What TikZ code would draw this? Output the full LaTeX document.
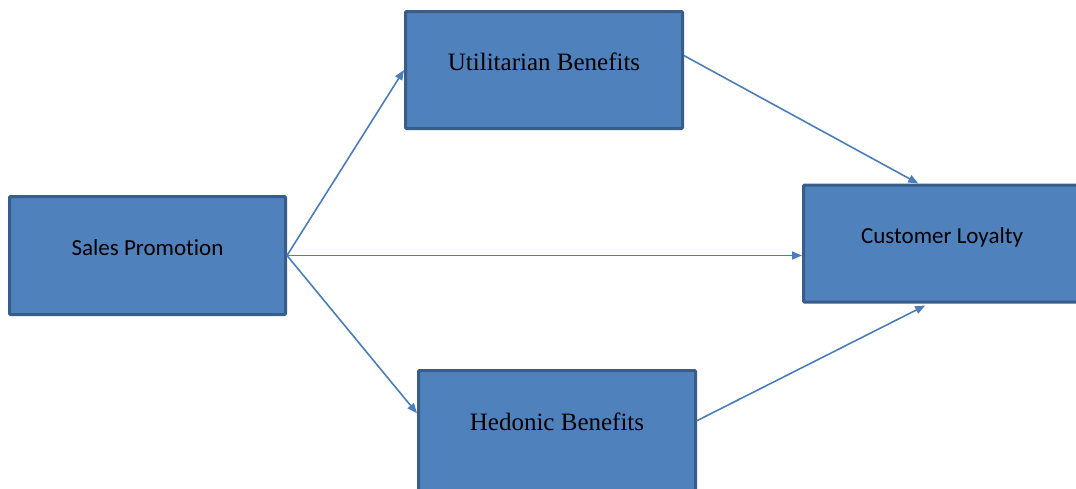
\documentclass[tikz,border=0pt]{standalone}
\usepackage{fontspec}
\newfontfamily\serifbox{Liberation Serif}
\newfontfamily\sansbox[Ligatures=NoCommon]{Carlito}
\usetikzlibrary{arrows.meta,calc}
\definecolor{boxfill}{HTML}{4F81BD}
\definecolor{boxline}{HTML}{385D8A}
\definecolor{arrowcol}{HTML}{4A7EBB}
\begin{document}
\begin{tikzpicture}[x=1pt,y=-1pt,
  box/.style={draw=boxline, fill=boxfill, line width=3pt, rectangle, rounded corners=1pt,
    minimum width=277pt, minimum height=117pt, inner sep=0pt, text height=12pt, text depth=12pt, align=center},
  sbox/.style={box, font=\serifbox\fontsize{25}{30}\selectfont},
  cbox/.style={box, font=\sansbox\fontsize{23}{28}\selectfont},
  link/.style={draw=arrowcol, line width=1.6pt, -{Triangle[length=10pt,width=8pt]}}]
\useasboundingbox (0,0) rectangle (1076,488);
\clip (0,0) rectangle (1076,488);
\node[cbox, minimum width=276pt, minimum height=118pt] (sp) at (147.5,255.5) {Sales Promotion};
\node[sbox] (ub) at (544,70) {Utilitarian Benefits};
\node[cbox] (cl) at (942,243.5) {Customer Loyalty};
\node[sbox, minimum height=120pt] (hb) at (557,430.5) {Hedonic Benefits};
\coordinate (ubin) at (ub.west);
\coordinate (clin) at (cl.west |- sp.east);
\coordinate (hbin) at ($(hb.north west)!0.36!(hb.south west)$);
\coordinate (ubout) at ($(ub.north east)!0.38!(ub.south east)$);
\coordinate (cltop) at ($(cl.north west)!0.415!(cl.north east)$);
\coordinate (hbout) at ($(hb.north east)!0.42!(hb.south east)$);
\coordinate (clbot) at ($(cl.south west)!0.44!(cl.south east)+(0,2)$);
\draw[link] (sp.east) -- (ubin);
\draw[link] (sp.east) -- (clin);
\draw[link] (sp.east) -- (hbin);
\draw[link] (ubout) -- (cltop);
\draw[link] (hbout) -- (clbot);
\end{tikzpicture}
\end{document}
